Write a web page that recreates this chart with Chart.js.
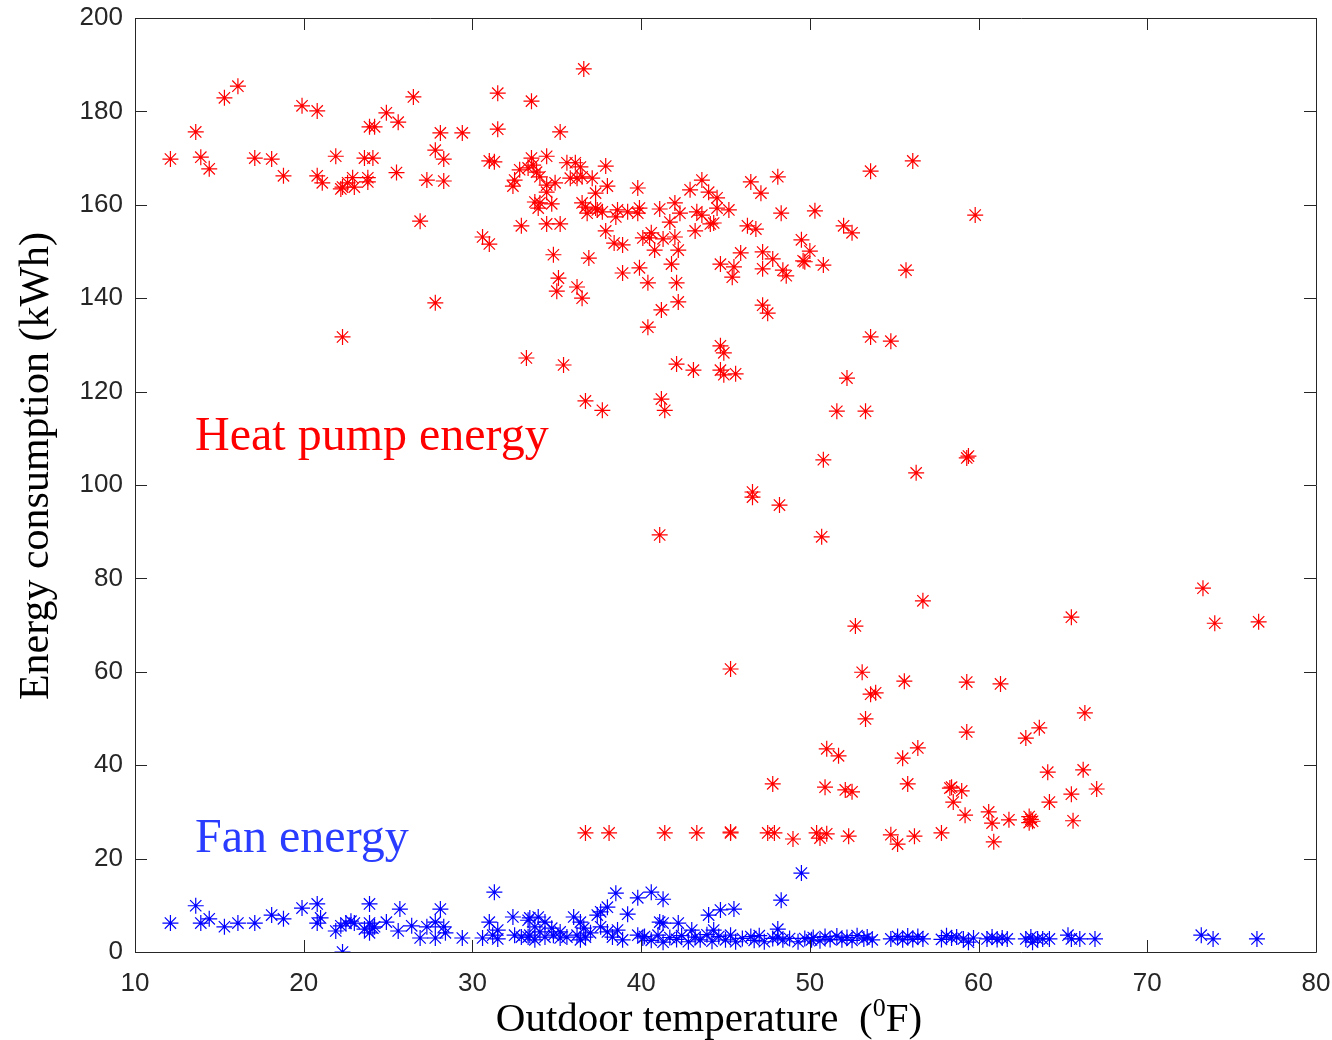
<!DOCTYPE html>
<html>
<head>
<meta charset="utf-8">
<script src="https://cdn.jsdelivr.net/npm/chart.js@4.4.1/dist/chart.umd.min.js"></script>
<style>
  html, body { margin: 0; padding: 0; background: #ffffff; }
  #wrap { width: 1332px; height: 1040px; }
</style>
</head>
<body>
<div id="wrap"><canvas id="chart" width="1332" height="1040"></canvas></div>
<script>
// Axis ranges / ticks
const X_MIN = 10, X_MAX = 80, X_STEP = 10;
const Y_MIN = 0, Y_MAX = 200, Y_STEP = 20;

// Heat pump energy [outdoor temp F, kWh]
const heatPump = [
  [12.1,169.8],[13.6,175.6],[13.9,170.2],[14.4,167.7],[15.3,182.9],[16.1,185.4],[17.1,170.0],
  [18.1,169.8],[18.8,166.2],[19.9,181.2],[20.8,180.1],[20.8,166.2],[21.1,164.7],[21.9,170.4],
  [22.2,163.4],[22.3,163.8],[22.6,164.7],[22.9,165.8],[23.0,163.8],[23.6,170.0],[24.1,170.0],
  [23.8,165.8],[23.8,164.9],[23.9,176.7],[24.2,176.7],[24.9,179.7],[25.6,177.7],[25.5,166.9],
  [26.5,183.1],[26.9,156.5],[27.3,165.3],[27.8,171.7],[28.3,169.8],[28.1,175.4],[28.3,165.1],
  [29.4,175.4],[27.8,139.0],[22.3,131.7],
  [36.6,189.1],[31.5,183.9],[33.5,182.2],[31.5,176.2],[35.2,175.6],[31.0,169.4],[31.3,169.2],
  [33.5,170.0],[34.4,170.4],[32.8,167.5],[32.5,165.3],[32.4,164.0],[33.3,167.9],[33.6,168.5],
  [33.8,167.0],[34.0,166.0],[34.4,164.2],[34.9,164.7],[34.4,162.7],[33.7,160.6],[34.0,160.4],
  [33.9,159.3],[34.7,160.2],[35.6,169.0],[36.1,169.0],[36.4,168.1],[35.8,165.7],[36.2,165.7],
  [36.5,166.0],[37.1,165.7],[37.9,168.3],[38.0,164.0],[37.3,162.5],[39.8,163.6],[36.5,160.4],
  [36.7,159.5],[36.8,158.2],[37.3,159.3],[37.4,158.9],[37.7,158.5],[38.6,158.9],[38.5,157.4],
  [39.2,158.5],[39.8,158.2],[39.9,159.3],[41.1,159.1],[42.0,160.4],[42.3,158.2],[41.7,156.3],
  [32.9,155.5],[34.4,155.9],[35.2,155.9],[30.6,153.1],[31.0,151.6],[37.9,154.4],[38.4,151.8],
  [38.9,151.4],[34.8,149.3],[36.9,148.6],[38.9,145.4],[39.9,146.5],[35.1,144.3],[35.0,141.5],
  [36.2,142.4],[36.5,140.0],[40.4,143.3],[41.2,137.5],[40.4,133.8],[42.1,143.3],[42.2,139.2],
  [41.8,147.3],[40.1,152.9],[40.6,154.0],[40.5,152.9],[41.3,152.7],[42.0,153.1],[40.8,150.3],
  [42.2,150.3],[42.9,163.2],[43.6,165.3],[44.0,162.7],[44.5,161.5],[44.5,159.3],[43.3,158.5],
  [43.6,157.8],[43.2,154.4],[44.1,155.9],[44.3,156.1],[45.2,158.9],[46.5,164.9],[47.1,162.5],
  [48.1,166.0],[48.3,158.2],[46.3,155.5],[46.8,154.8],[45.9,149.7],[47.2,149.9],[47.8,148.4],
  [44.7,147.3],[45.5,146.7],[45.4,144.5],[47.2,146.3],[48.4,146.0],[48.6,144.8],[49.5,152.5],
  [49.6,148.0],[47.2,138.5],[47.5,136.8],[44.7,129.8],[44.9,128.3],[33.2,127.2],[35.4,125.7],
  [56.1,169.4],[53.6,167.2],[50.3,158.7],[59.8,157.8],[52.0,155.5],[52.5,154.0],[50.0,150.1],
  [49.7,147.8],[50.8,147.1],[55.7,146.0],[53.6,131.7],[54.8,130.8],[52.2,122.9],[51.6,115.8],
  [53.3,115.8],[50.8,105.4],[59.4,106.2],[59.3,105.8],[56.3,102.6],[50.7,88.9],
  [41.1,89.3],[46.6,98.5],[46.6,97.4],[48.2,95.7],[41.2,118.4],[41.4,116.0],[36.7,118.0],
  [37.7,116.0],[42.1,125.9],[43.1,124.6],[44.7,124.6],[44.9,123.6],[45.6,123.8],
  [73.3,77.9],[56.7,75.2],[65.5,71.7],[74.0,70.4],[76.6,70.7],[52.7,69.8],[45.3,60.6],
  [53.1,59.9],[55.6,58.0],[59.3,57.8],[61.3,57.4],[53.6,55.2],[53.9,55.5],[53.3,49.9],
  [66.3,51.2],[59.3,47.1],[62.8,45.8],[63.6,48.0],[51.0,43.5],[51.7,42.0],[55.5,41.5],
  [56.4,43.7],[64.1,38.5],[66.2,39.0],[47.8,36.0],[50.9,35.3],[52.1,34.7],[52.5,34.3],
  [55.8,36.0],[58.3,35.1],[58.4,35.3],[59.0,34.5],[58.5,32.1],[67.0,34.9],[64.2,32.1],
  [65.5,33.8],[59.2,29.3],[60.6,30.0],[60.8,27.6],[61.8,28.3],[63.0,29.0],[63.1,28.4],
  [63.2,28.0],[63.0,27.7],[65.6,28.1],[60.9,23.6],[36.7,25.5],[38.1,25.5],[41.4,25.5],
  [43.3,25.5],[45.3,25.5],[45.3,25.7],[47.5,25.5],[47.9,25.5],[49.0,24.2],[50.4,25.5],
  [50.6,24.4],[51.0,25.3],[52.3,24.8],[54.8,25.1],[55.2,23.1],[56.2,24.8],[57.8,25.5]
];

// Fan energy [outdoor temp F, kWh]
const fanEnergy = [
  [12.1,6.2],[13.6,9.9],[13.9,6.2],[14.4,7.1],[15.3,5.4],[16.1,6.2],[17.1,6.2],[18.1,7.9],
  [18.8,7.1],[19.9,9.4],[20.8,10.3],[21.0,7.3],[20.8,6.2],[22.3,0.0],[21.9,4.5],[22.2,5.6],
  [22.5,6.2],[22.8,6.6],[23.0,6.2],[23.9,10.3],[23.9,6.2],[23.6,4.9],[24.1,5.1],[23.9,4.1],
  [24.2,5.4],[24.9,6.4],[25.7,9.2],[25.6,4.5],[26.4,5.6],[26.9,3.0],[27.3,5.4],[27.8,6.4],
  [27.8,3.0],[28.1,9.2],[28.3,5.4],[28.4,4.1],[29.4,3.0],[30.6,3.0],[31.0,6.4],[31.2,3.6],
  [31.5,4.7],[31.5,2.8],[31.3,12.8],[32.4,7.5],[32.5,3.6],[32.9,3.2],[33.3,6.8],[33.3,3.2],
  [33.4,7.3],[33.9,7.5],[34.3,6.4],[33.7,5.4],[34.0,4.3],[33.4,3.6],[33.7,2.6],[34.3,3.2],
  [34.7,5.1],[34.8,3.6],[35.2,4.3],[35.2,3.0],[35.6,3.2],[36.0,7.5],[36.4,6.4],[36.6,5.1],
  [36.2,3.6],[36.4,2.6],[36.7,3.2],[37.0,4.1],[37.4,7.9],[37.6,8.6],[38.0,9.6],[38.5,12.6],
  [39.2,8.1],[37.6,5.4],[38.0,4.3],[38.3,3.2],[38.6,4.7],[38.9,2.6],[39.8,11.6],[39.8,3.6],
  [40.1,3.0],
  [40.6,12.8],[41.3,11.3],[41.1,6.4],[41.3,6.2],[42.2,6.2],[43.0,4.7],[44.3,4.7],[44.0,7.9],
  [44.7,9.0],[45.5,9.2],[48.3,11.1],[48.1,4.9],[49.5,16.9],
  [40.2,3.3],[40.6,2.5],[41.0,3.6],[41.3,2.1],[41.7,3.1],[42.1,2.7],[42.4,3.5],[42.8,2.2],
  [43.2,3.2],[43.5,2.6],[43.9,3.7],[44.2,2.3],[44.6,3.3],[45.0,2.6],[45.3,3.6],[45.6,2.2],
  [46.0,2.9],[46.5,3.3],[46.7,2.5],[47.0,3.5],[47.3,2.2],[47.8,2.9],[48.1,3.2],[48.4,2.6],
  [48.8,2.9],[49.3,2.2],[49.7,2.9],[50.1,2.6],
  [50.2,3.1],[50.6,2.4],[50.9,3.3],[51.2,2.7],[51.6,3.4],[51.9,2.6],[52.2,3.1],[52.5,2.5],
  [52.8,3.5],[53.2,2.8],[53.4,3.2],[53.7,2.6],[54.8,2.8],[55.2,3.3],[55.5,2.6],[55.8,3.4],
  [56.1,2.7],[56.4,3.3],[56.7,2.8],[57.8,2.7],[58.1,3.5],[58.4,3.0],[58.7,3.2],[59.1,2.8],
  [59.4,2.1],[59.7,3.0],[60.5,2.8],[60.8,3.2],[61.1,2.7],[61.4,3.0],[61.7,2.8],
  [62.8,2.8],[63.1,3.2],[63.2,2.1],[63.5,2.8],[63.8,2.8],[64.2,2.8],[65.3,3.6],[65.5,2.8],
  [66.0,2.8],[66.9,2.8],[73.2,3.6],[73.9,2.8],[76.5,2.8]
];

// In-plot annotations: [label, x, y, colour]
const annotations = [
  ["Heat pump energy", 13.56, 107.5, "#ff0000"],
  ["Fan energy", 13.56, 21.4, "#2a3cff"]
];

const AXIS_COLOR = "#262626";
const SERIF = "'Liberation Serif', 'Times New Roman', serif";
const TICK_FONT = { family: "'Liberation Sans', Arial, sans-serif", size: 26 };

// MATLAB-like box with inward ticks on all four sides, labels and axis titles
const boxPlugin = {
  id: "matlabBox",
  afterDatasetsDraw(chart) {
    const { ctx, chartArea: a, scales: { x, y } } = chart;
    const len = 12;
    ctx.save();
    ctx.strokeStyle = AXIS_COLOR;
    ctx.lineWidth = 1;
    ctx.beginPath();
    ctx.rect(Math.round(a.left) + 0.5, Math.round(a.top) + 0.5,
      Math.round(a.right - a.left), Math.round(a.bottom - a.top));
    x.ticks.forEach(t => {
      const px = Math.round(x.getPixelForValue(t.value)) + 0.5;
      ctx.moveTo(px, a.bottom); ctx.lineTo(px, a.bottom - len);
      ctx.moveTo(px, a.top); ctx.lineTo(px, a.top + len);
    });
    y.ticks.forEach(t => {
      const py = Math.round(y.getPixelForValue(t.value)) + 0.5;
      ctx.moveTo(a.left, py); ctx.lineTo(a.left + len, py);
      ctx.moveTo(a.right, py); ctx.lineTo(a.right - len, py);
    });
    ctx.stroke();

    // text labels inside the plot
    ctx.font = "48px " + SERIF;
    ctx.textBaseline = "alphabetic";
    ctx.textAlign = "left";
    annotations.forEach(([label, lx, ly, color]) => {
      ctx.fillStyle = color;
      ctx.fillText(label, x.getPixelForValue(lx), y.getPixelForValue(ly));
    });

    // y axis title
    ctx.fillStyle = "#000000";
    ctx.font = "42px " + SERIF;
    ctx.save();
    ctx.translate(48, 466);
    ctx.rotate(-Math.PI / 2);
    ctx.textAlign = "center";
    ctx.fillText("Energy consumption (kWh)", 0, 0);
    ctx.restore();

    // x axis title with superscript 0
    const big = "41px " + SERIF, small = "26px " + SERIF;
    const p1 = "Outdoor temperature  (", p2 = "0", p3 = "F)";
    ctx.font = big; const w1 = ctx.measureText(p1).width, w3 = ctx.measureText(p3).width;
    ctx.font = small; const w2 = ctx.measureText(p2).width;
    let cx = 709 - (w1 + w2 + w3) / 2;
    const base = 1031;
    ctx.textAlign = "left";
    ctx.font = big; ctx.fillText(p1, cx, base); cx += w1;
    ctx.font = small; ctx.fillText(p2, cx, base - 15); cx += w2;
    ctx.font = big; ctx.fillText(p3, cx, base);
    ctx.restore();
  }
};

const zeroPad = s => { s.paddingTop = 0; s.paddingBottom = 0; s.paddingLeft = 0; s.paddingRight = 0; };

const ctx = document.getElementById("chart").getContext("2d");
new Chart(ctx, {
  type: "scatter",
  data: {
    datasets: [
      {
        label: "Heat pump energy",
        data: heatPump.map(p => ({ x: p[0], y: p[1] })),
        pointStyle: "star",
        pointRadius: 8,
        borderColor: "#ff0000",
        backgroundColor: "#ff0000",
        borderWidth: 1.2,
        order: 2
      },
      {
        label: "Fan energy",
        data: fanEnergy.map(p => ({ x: p[0], y: p[1] })),
        pointStyle: "star",
        pointRadius: 8,
        borderColor: "#0000ff",
        backgroundColor: "#0000ff",
        borderWidth: 1.2,
        order: 1
      }
    ]
  },
  options: {
    responsive: false,
    animation: false,
    events: [],
    layout: { padding: { top: 18, right: 16, left: 0, bottom: 0 } },
    plugins: {
      legend: { display: false },
      tooltip: { enabled: false }
    },
    scales: {
      x: {
        type: "linear",
        min: X_MIN,
        max: X_MAX,
        border: { display: false },
        grid: { display: false, drawTicks: false },
        ticks: { stepSize: X_STEP, color: AXIS_COLOR, font: TICK_FONT, padding: 16, maxRotation: 0 },
        afterFit: s => { s.height = 88; zeroPad(s); }
      },
      y: {
        type: "linear",
        min: Y_MIN,
        max: Y_MAX,
        border: { display: false },
        grid: { display: false, drawTicks: false },
        ticks: { stepSize: Y_STEP, color: AXIS_COLOR, font: TICK_FONT, padding: 12 },
        afterFit: s => { s.width = 135; zeroPad(s); }
      }
    }
  },
  plugins: [boxPlugin]
});
</script>
</body>
</html>
